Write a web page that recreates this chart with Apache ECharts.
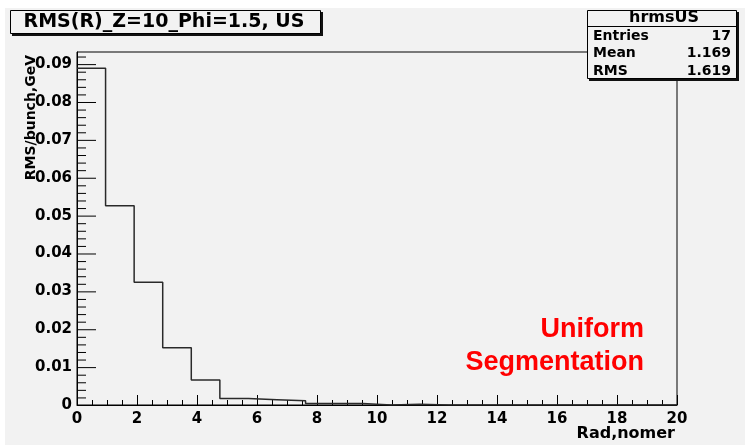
<!DOCTYPE html>
<html>
<head>
<meta charset="utf-8">
<script src="https://cdn.jsdelivr.net/npm/echarts@6/dist/echarts.min.js"></script>
<style>
  html, body { margin: 0; padding: 0; background: #ffffff; }
  #chart { width: 745px; height: 445px; }
</style>
</head>
<body>
<div id="chart"></div>
<script>
// Histogram hrmsUS: RMS per bunch vs radial index, 21 equal bins over [0, 20]
const histTitle = 'RMS(R)_Z=10_Phi=1.5, US';
const statsName = 'hrmsUS';
const statsLabels = ['Entries', 'Mean', 'RMS'];
const statsValues = ['17', '1.169', '1.619'];
const xTitle = 'Rad,nomer';
const yTitle = 'RMS/bunch,GeV';
const noteLines = ['Uniform', 'Segmentation'];

const nBins = 21;
const xMin = 0;
const xMax = 20;
const binValues = [
  0.0889, 0.0526, 0.0324, 0.0151, 0.0066, 0.0017, 0.0014,
  0.0011, 0.0004, 0.0004, 0.0000, 0.0002, 0.0000, 0.0000,
  0.0000, 0.0000, 0.0000, 0.0000, 0.0000, 0.0000, 0.0000
];
const yMax = 0.0932;
const xTickLabels = ['0', '2', '4', '6', '8', '10', '12', '14', '16', '18', '20'];
const xMinorStep = 0.5;
const yTickLabels = ['0', '0.01', '0.02', '0.03', '0.04', '0.05', '0.06', '0.07', '0.08', '0.09'];
const yMinorStep = 0.002;

// tick positions in data units
const xMajorTicks = xTickLabels.map(Number);
const yMajorTicks = yTickLabels.map(Number);
const xMinorTicks = [];
for (let k = 1; k * xMinorStep < xMax; k++) {
  if (k % 4 !== 0) xMinorTicks.push(k * xMinorStep);
}
const yMinorTicks = [];
for (let k = 1; k * yMinorStep <= yMax; k++) {
  if (k % 5 !== 0) yMinorTicks.push(+(k * yMinorStep).toFixed(4));
}

// step outline: left edge of every bin, closed at the upper limit
const binWidth = (xMax - xMin) / nBins;
const outline = binValues.map((v, i) => [xMin + i * binWidth, v]);
outline.push([xMax, binValues[nBins - 1]]);

const FONT = '"DejaVu Sans", sans-serif';
const PAD = '#f2f2f2';
const GRID_W = 600;
const GRID_H = 353;
const xPerPx = (xMax - xMin) / GRID_W;
const yPerPx = yMax / GRID_H;

const chart = echarts.init(document.getElementById('chart'), null, { renderer: 'canvas' });

const labelStyle = { color: '#000', fontFamily: FONT, fontWeight: 'bold', fontSize: 15 };

// inward tick marks as short two-point line series on the same axes
function tickLines(values, onX, lenPx) {
  return values.map(v => ({
    type: 'line',
    silent: true,
    symbol: 'none',
    z: 3,
    lineStyle: { color: '#000', width: 1 },
    data: onX
      ? [[v + 0.5 * xPerPx, 0], [v + 0.5 * xPerPx, lenPx * yPerPx]]
      : [[xMin, v - 0.5 * yPerPx], [xMin + lenPx * xPerPx, v - 0.5 * yPerPx]]
  }));
}

const statsX = 587, statsY = 10, statsW = 150, statsH = 69;
const graphics = [
  // white margins around the pad
  { type: 'rect', shape: { x: 0, y: 0, width: 745, height: 8 }, style: { fill: '#fff' }, z: 50 },
  { type: 'rect', shape: { x: 0, y: 0, width: 5, height: 445 }, style: { fill: '#fff' }, z: 50 },
  // title box with shadow
  { type: 'rect', shape: { x: 12, y: 12, width: 311, height: 24 }, style: { fill: '#111' }, z: 100 },
  { type: 'rect', shape: { x: 10.5, y: 10.5, width: 310, height: 23 }, style: { fill: PAD, stroke: '#000', lineWidth: 1 }, z: 101 },
  { type: 'text', x: 164, y: 22.5, z: 102,
    style: { text: histTitle, font: 'bold 19px ' + FONT, fill: '#000', align: 'center', verticalAlign: 'middle' } },
  // statistics box with shadow
  { type: 'rect', shape: { x: statsX + 2, y: statsY + 2, width: statsW, height: statsH }, style: { fill: '#111' }, z: 100 },
  { type: 'rect', shape: { x: statsX + 0.5, y: statsY + 0.5, width: statsW - 1, height: statsH - 1 }, style: { fill: PAD, stroke: '#000', lineWidth: 1 }, z: 101 },
  { type: 'line', shape: { x1: statsX, y1: 26.5, x2: statsX + statsW, y2: 26.5 }, style: { stroke: '#000', lineWidth: 1 }, z: 102 },
  { type: 'text', x: statsX + statsW / 2 + 2, y: 18, z: 102,
    style: { text: statsName, font: 'bold 16px ' + FONT, fill: '#000', align: 'center', verticalAlign: 'middle' } },
  // red annotation
  { type: 'text', x: 644, y: 330, z: 102,
    style: { text: noteLines[0], font: 'bold 27px "Liberation Sans", Arial, sans-serif', fill: '#ff0000', align: 'right', verticalAlign: 'middle' } },
  { type: 'text', x: 644, y: 363, z: 102,
    style: { text: noteLines[1], font: 'bold 27px "Liberation Sans", Arial, sans-serif', fill: '#ff0000', align: 'right', verticalAlign: 'middle' } },
  // axis titles
  { type: 'text', x: 675, y: 434, z: 102,
    style: { text: xTitle, font: 'bold 16px ' + FONT, fill: '#000', align: 'right', verticalAlign: 'middle' } },
  { type: 'text', x: 31, y: 55, rotation: Math.PI / 2, z: 102,
    style: { text: yTitle, font: 'bold 14px ' + FONT, fill: '#000', align: 'right', verticalAlign: 'middle' } }
];
statsLabels.forEach((lab, i) => {
  const y = 36 + i * 17.5;
  graphics.push({ type: 'text', x: statsX + 6, y: y, z: 102,
    style: { text: lab, font: 'bold 14px ' + FONT, fill: '#000', align: 'left', verticalAlign: 'middle' } });
  graphics.push({ type: 'text', x: statsX + statsW - 6, y: y, z: 102,
    style: { text: statsValues[i], font: 'bold 14px ' + FONT, fill: '#000', align: 'right', verticalAlign: 'middle' } });
});

const option = {
  animation: false,
  backgroundColor: PAD,
  grid: {
    left: 77, top: 52, width: GRID_W, height: GRID_H,
    show: true, borderColor: '#000', borderWidth: 1
  },
  xAxis: {
    type: 'value', min: xMin, max: xMax, interval: 2,
    axisLine: { show: true, onZero: false, lineStyle: { color: '#000', width: 1 } },
    axisTick: { show: false },
    splitLine: { show: false },
    axisLabel: Object.assign({ margin: 7 }, labelStyle)
  },
  yAxis: {
    type: 'value', min: 0, max: yMax, interval: 0.01,
    axisLine: { show: true, onZero: false, lineStyle: { color: '#000', width: 1 } },
    axisTick: { show: false },
    splitLine: { show: false },
    axisLabel: Object.assign({
      margin: 5,
      showMaxLabel: false,
      formatter: v => {
        const i = yMajorTicks.findIndex(t => Math.abs(t - v) < 1e-9);
        return i >= 0 ? yTickLabels[i] : '';
      }
    }, labelStyle)
  },
  series: [
    {
      type: 'line',
      step: 'end',
      data: outline,
      symbol: 'none',
      z: 4,
      lineStyle: { color: '#2a2a2a', width: 1.5 }
    }
  ].concat(
    tickLines(xMajorTicks, true, 10),
    tickLines(xMinorTicks, true, 5),
    tickLines(yMajorTicks, false, 19),
    tickLines(yMinorTicks, false, 9)
  ),
  graphic: graphics
};

chart.setOption(option);
</script>
</body>
</html>
